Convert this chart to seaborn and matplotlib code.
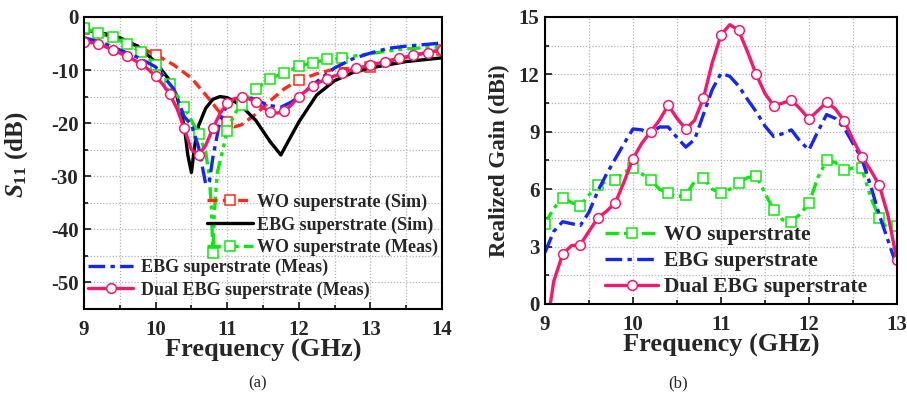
import numpy as np
import pandas as pd
import matplotlib
matplotlib.use("Agg")
import matplotlib.pyplot as plt
import seaborn as sns
from matplotlib.ticker import MultipleLocator

sns.set_style("white")
plt.rcParams['font.family'] = ['Liberation Serif', 'DejaVu Serif']
plt.rcParams['font.weight'] = 'bold'
plt.rcParams['axes.unicode_minus'] = False
plt.rcParams['mathtext.fontset'] = 'custom'
plt.rcParams['mathtext.it'] = 'Liberation Serif:italic:bold'
plt.rcParams['mathtext.rm'] = 'Liberation Serif:bold'

# ---------------- (a) S11 data ----------------
f_wo_sim = [9.0, 9.25, 9.5, 9.75, 10.0, 10.25, 10.5, 10.75, 11.0, 11.1, 11.2, 11.4, 11.6, 11.8, 12.0,
            12.25, 12.5, 12.75, 13.0, 13.25, 13.5, 13.75, 14.0]
s_wo_sim = [-2.2, -3.2, -4.3, -5.5, -7.1, -9.0, -11.5, -15.5, -19.8, -20.7, -20.3, -18.3, -15.8, -13.5, -11.9,
            -10.7, -9.8, -9.7, -9.5, -8.6, -7.6, -6.8, -6.2]
mk_wo_sim = [9.0, 10.0, 11.0, 12.0, 13.0, 14.0]

f_ebg_sim = [9.0, 9.25, 9.5, 9.75, 10.0, 10.2, 10.3, 10.4, 10.45, 10.5, 10.55, 10.6, 10.7, 10.8, 10.9, 11.0,
             11.1, 11.2, 11.4, 11.6, 11.75, 11.85, 12.0, 12.25, 12.5, 12.75, 13.0, 13.5, 14.0]
s_ebg_sim = [-2.4, -3.0, -3.9, -5.5, -8.5, -12.0, -15.0, -20.5, -26.0, -29.3, -24.0, -20.5, -17.2, -15.5, -15.0, -15.2,
             -15.9, -16.8, -19.5, -23.5, -26.0, -23.5, -19.8, -14.7, -12.0, -10.5, -9.6, -8.4, -7.7]

f_wo_meas = [9.0, 9.2, 9.4, 9.6, 9.8, 10.0, 10.2, 10.4, 10.5, 10.6, 10.7, 10.75, 10.78, 10.8, 10.82, 10.86,
             11.0, 11.1, 11.2, 11.4, 11.6, 11.8, 12.0, 12.2, 12.4, 12.6, 12.8, 13.0, 13.25, 13.5, 13.75, 14.0]
s_wo_meas = [-2.1, -3.0, -3.8, -5.0, -6.6, -9.0, -12.6, -17.0, -19.5, -22.0, -25.5, -30.0, -36.0, -44.5, -37.0, -29.5,
             -21.5, -18.3, -16.5, -13.6, -11.6, -10.5, -9.3, -8.6, -8.0, -7.8, -7.3, -6.9, -6.4, -6.0, -5.8, -5.6]
mk_wo_meas = [9.0, 9.2, 9.4, 9.6, 9.8, 10.0, 10.2, 10.4, 10.6, 10.8, 11.0, 11.2, 11.4, 11.6, 11.8, 12.0,
              12.2, 12.4, 12.6]

f_ebg_meas = [9.0, 9.25, 9.5, 9.75, 10.0, 10.25, 10.4, 10.5, 10.6, 10.7, 10.75, 10.8, 10.9, 11.0, 11.1, 11.2,
              11.3, 11.4, 11.5, 11.6, 11.75, 11.9, 12.0, 12.25, 12.5, 12.75, 13.0, 13.25, 13.5, 13.75, 14.0]
s_ebg_meas = [-3.9, -4.8, -6.2, -7.6, -9.4, -13.5, -18.8, -20.3, -24.5, -31.5, -31.0, -26.5, -19.5, -16.5, -15.5, -15.2,
              -15.1, -15.6, -16.2, -16.7, -17.0, -16.0, -15.0, -12.2, -9.6, -7.9, -6.8, -5.9, -5.5, -5.2, -4.9]

f_dual_meas = [9.0, 9.1, 9.2, 9.3, 9.4, 9.5, 9.6, 9.7, 9.8, 9.9, 10.0, 10.1, 10.2, 10.3, 10.4, 10.5, 10.6, 10.7,
               10.8, 10.9, 11.0, 11.1, 11.2, 11.3, 11.4, 11.5, 11.6, 11.7, 11.8, 11.9, 12.0, 12.1, 12.2, 12.3,
               12.4, 12.5, 12.6, 12.7, 12.8, 12.9, 13.0, 13.1, 13.2, 13.3, 13.4, 13.5, 13.6, 13.7, 13.8, 13.9, 14.0]
s_dual_meas = [-4.7, -4.8, -5.0, -5.6, -6.2, -6.8, -7.4, -8.1, -8.9, -9.9, -11.2, -12.7, -14.6, -17.3, -21.0, -25.0,
               -26.0, -24.2, -21.0, -18.2, -16.2, -15.4, -15.1, -15.4, -16.1, -17.1, -17.9, -18.1, -17.8, -16.5,
               -15.0, -13.9, -13.0, -12.2, -11.6, -11.1, -10.6, -10.1, -9.7, -9.4, -9.1, -8.75, -8.4, -8.1, -7.8,
               -7.5, -7.2, -6.95, -6.7, -6.45, -6.2]

# ---------------- (b) Gain data ----------------
f_gain = [9.0, 9.1, 9.2, 9.3, 9.4, 9.5, 9.6, 9.7, 9.8, 9.9, 10.0, 10.1, 10.2, 10.3, 10.4, 10.5, 10.6, 10.7, 10.8,
          10.9, 11.0, 11.1, 11.2, 11.3, 11.4, 11.5, 11.6, 11.7, 11.8, 11.9, 12.0, 12.1, 12.2, 12.3, 12.4, 12.5,
          12.6, 12.7, 12.8, 12.9, 13.0]
g_wo = [4.2, 5.0, 5.56, 5.3, 5.14, 5.7, 6.2, 6.4, 6.5, 6.9, 7.1, 6.8, 6.5, 6.0, 5.8, 5.6, 5.7, 6.4, 6.57, 6.0,
        5.8, 6.0, 6.34, 6.6, 6.7, 5.8, 4.9, 4.4, 4.3, 4.7, 5.26, 6.6, 7.5, 7.4, 7.0, 7.1, 7.1, 5.6, 4.5, 3.9, 4.1]
g_ebg = [2.7, 3.8, 4.3, 4.2, 4.1, 4.8, 5.9, 6.8, 7.6, 8.4, 9.15, 9.1, 8.9, 9.25, 9.25, 8.7, 8.2, 8.6, 9.9, 11.2,
         12.05, 11.9, 11.4, 10.7, 10.05, 9.3, 8.75, 8.9, 9.1, 8.5, 8.05, 9.0, 9.9, 9.7, 9.2, 8.4, 7.6, 6.2, 4.65,
         3.3, 1.95]
f_gain_dual = [9.06] + f_gain[1:]
g_dual = [0.0, 1.2, 2.6, 3.05, 3.1, 3.8, 4.5, 4.85, 5.3, 6.4, 7.6, 8.4, 9.0, 9.6, 10.4, 9.7, 9.15, 9.6, 10.75,
          12.6, 14.06, 14.6, 14.3, 13.2, 12.0, 11.0, 10.36, 10.5, 10.66, 10.2, 9.67, 10.1, 10.54, 10.2, 9.57,
          8.6, 7.7, 7.0, 6.2, 4.6, 2.3]
mk_gain = [9.0, 9.2, 9.4, 9.6, 9.8, 10.0, 10.2, 10.4, 10.6, 10.8, 11.0, 11.2, 11.4, 11.6, 11.8, 12.0, 12.2,
           12.4, 12.6, 12.8, 13.0]

RED = '#ff2a1a'
GREEN = '#12e612'
BLUE = '#1426f0'
PINK = '#f5186c'
BLACK = '#000000'


def idx(xs, marks):
    return [i for i, v in enumerate(xs) if any(abs(v - m) < 1e-6 for m in marks)]


fig = plt.figure(figsize=(9.07, 3.99), dpi=100)
ax1 = fig.add_axes([0.0926, 0.226, 0.3947, 0.7314])
ax2 = fig.add_axes([0.6009, 0.2381, 0.388, 0.7193])

lw = 2.4
ms = 7
common = dict(markerfacecolor='white', markeredgewidth=1.1, linewidth=lw, markersize=ms)

series_a = [
    (f_wo_sim, s_wo_sim, RED, (0, (3, 1.6)), 's', idx(f_wo_sim, mk_wo_sim), 'WO superstrate (Sim)'),
    (f_ebg_sim, s_ebg_sim, BLACK, '-', None, None, 'EBG superstrate (Sim)'),
    (f_wo_meas, s_wo_meas, GREEN, (0, (4, 1.5, 1.2, 1.5, 1.2, 1.5)), 's', idx(f_wo_meas, mk_wo_meas),
     'WO superstrate (Meas)'),
    (f_ebg_meas, s_ebg_meas, BLUE, (0, (5, 1.6, 1.3, 1.6)), None, None, 'EBG superstrate (Meas)'),
    (f_dual_meas, s_dual_meas, PINK, '-', 'o', list(range(0, len(f_dual_meas), 2)),
     'Dual EBG superstrate (Meas)'),
]

for fx, sy, col, ls, mk, me, lab in series_a:
    df = pd.DataFrame({'f': fx, 's': sy})
    kw = dict(common)
    if mk is not None:
        kw.update(marker=mk, markevery=me, markeredgecolor=col)
    sns.lineplot(data=df, x='f', y='s', ax=ax1, color=col, linestyle=ls, label=lab, sort=False, **kw)

series_b = [
    (f_gain, g_wo, GREEN, (0, (4, 1.5, 1.2, 1.5, 1.2, 1.5)), 's', idx(f_gain, mk_gain), 'WO superstrate'),
    (f_gain, g_ebg, BLUE, (0, (5, 1.6, 1.3, 1.6)), None, None, 'EBG superstrate'),
    (f_gain_dual, g_dual, PINK, '-', 'o', idx(f_gain_dual, mk_gain[1:]), 'Dual EBG superstrate'),
]
for fx, gy, col, ls, mk, me, lab in series_b:
    df = pd.DataFrame({'f': fx, 'g': gy})
    kw = dict(common)
    if mk is not None:
        kw.update(marker=mk, markevery=me, markeredgecolor=col)
    sns.lineplot(data=df, x='f', y='g', ax=ax2, color=col, linestyle=ls, label=lab, sort=False, **kw)

# axes styling
for ax in (ax1, ax2):
    ax.grid(True, which='both', linestyle=(0, (1, 1.5)), color='#b5b5b5', linewidth=0.9)
    ax.set_axisbelow(True)
    for sp in ax.spines.values():
        sp.set_visible(True)
        sp.set_color('black')
        sp.set_linewidth(1.5)
    ax.tick_params(which='both', direction='in', left=True, bottom=True, top=False, right=False,
                   labelsize=15, width=1.3)
    ax.tick_params(which='major', length=5)
    ax.tick_params(which='minor', length=3)
    ax.tick_params(axis='x', which='both', pad=8)
    ax.tick_params(axis='y', which='both', pad=4)
    for t in ax.get_xticklabels() + ax.get_yticklabels():
        t.set_fontweight('bold')

ax1.set_xlim(9, 14)
ax1.set_ylim(-55, 0)
ax1.xaxis.set_major_locator(MultipleLocator(1))
ax1.xaxis.set_minor_locator(MultipleLocator(0.5))
ax1.yaxis.set_major_locator(MultipleLocator(10))
ax1.yaxis.set_minor_locator(MultipleLocator(5))
ax1.set_xlabel('Frequency (GHz)', fontsize=19, fontweight='bold', labelpad=-1)
ax1.set_ylabel(r'$S_{\mathit{11}}$ (dB)', fontsize=18, fontweight='bold')
ax1.yaxis.set_label_coords(-0.152, 0.527)

ax2.set_xlim(9, 13)
ax2.set_ylim(0, 15)
ax2.xaxis.set_major_locator(MultipleLocator(1))
ax2.xaxis.set_minor_locator(MultipleLocator(0.5))
ax2.yaxis.set_major_locator(MultipleLocator(3))
ax2.yaxis.set_minor_locator(MultipleLocator(1.5))
ax2.set_xlabel('Frequency (GHz)', fontsize=19, fontweight='bold', labelpad=-1)
ax2.set_ylabel('Realized Gain (dBi)', fontsize=16.5, fontweight='bold', labelpad=6)

# legends
h1, l1 = ax1.get_legend_handles_labels()
leg_a1 = ax1.legend(h1[:3], l1[:3], loc='upper left', bbox_to_anchor=(0.345, 0.395), frameon=False,
                    prop={'family': 'Liberation Serif', 'weight': 'bold', 'size': 13},
                    handlelength=2.5, handletextpad=0.25, labelspacing=0.3, borderpad=0, borderaxespad=0)
ax1.add_artist(leg_a1)
ax1.legend(h1[3:], l1[3:], loc='upper left', bbox_to_anchor=(0.012, 0.172), frameon=False,
           prop={'family': 'Liberation Serif', 'weight': 'bold', 'size': 13},
           handlelength=2.5, handletextpad=0.4, labelspacing=0.3, borderpad=0, borderaxespad=0)

ax2.legend(loc='upper left', bbox_to_anchor=(0.17, 0.275), frameon=False,
           prop={'family': 'Liberation Serif', 'weight': 'bold', 'size': 15.4},
           handlelength=2.5, handletextpad=0.25, labelspacing=0.28, borderpad=0, borderaxespad=0)

fig.text(258 / 907, 1 - 383 / 399, '(a)', ha='center', va='center', fontsize=12, fontweight='normal')
fig.text(678 / 907, 1 - 383 / 399, '(b)', ha='center', va='center', fontsize=12, fontweight='normal')

fig.savefig('out.png', dpi=100)
